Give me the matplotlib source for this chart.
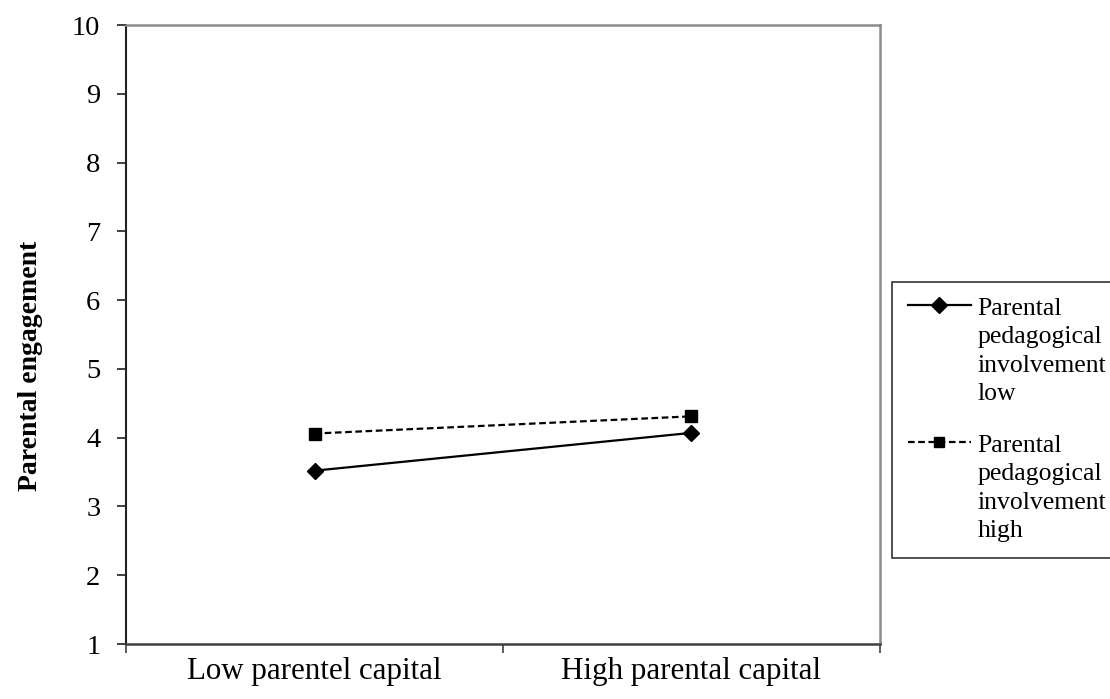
import matplotlib
matplotlib.use("Agg")
import matplotlib.pyplot as plt
import numpy as np
from matplotlib.legend_handler import HandlerLine2D

categories = ["Low parentel capital", "High parental capital"]
series_names = ["Parental\npedagogical\ninvolvement\nlow",
                "Parental\npedagogical\ninvolvement\nhigh"]
low_involvement = [3.52, 4.07]
high_involvement = [4.06, 4.31]
y_ticks = [1, 2, 3, 4, 5, 6, 7, 8, 9, 10]

plt.rcParams['font.family'] = ['Liberation Serif', 'DejaVu Serif']


class TopAlignedHandler(HandlerLine2D):
    def __init__(self, shift, **kw):
        super().__init__(**kw)
        self.shift = shift

    def create_artists(self, legend, orig_handle, xdescent, ydescent, width,
                       height, fontsize, trans):
        artists = super().create_artists(legend, orig_handle, xdescent, ydescent,
                                         width, height, fontsize, trans)
        for a in artists:
            a.set_ydata(np.asarray(a.get_ydata(), dtype=float) + self.shift)
        return artists


fig = plt.figure(figsize=(11.10, 6.99), dpi=100)
ax = fig.add_axes([126/1110, 1-644/699, (880-126)/1110, (644-25)/699])

xpos = [0.5, 1.5]
l1, = ax.plot(xpos, low_involvement, color='black', lw=1.6, marker='D', ms=8.5,
              label=series_names[0])
l2, = ax.plot(xpos, high_involvement, color='black', lw=1.6, ls=(0, (3, 1.6)), marker='s', ms=8.5,
              label=series_names[1])

ax.set_xlim(0, 2)
ax.set_ylim(1, 10)
ax.set_yticks(y_ticks)
ax.set_yticklabels([str(v) for v in y_ticks], fontsize=20.5)
ax.set_xticks([0, 1, 2])
ax.set_xticklabels([])
ax.set_xticks(xpos, minor=True)
ax.set_xticklabels(categories, minor=True, fontsize=22.3)
ax.tick_params(axis='x', which='minor', length=0, pad=9)
ax.tick_params(axis='x', which='major', length=6.5, width=1.2, direction='out', color='#404040')
ax.tick_params(axis='y', which='major', length=6.5, width=1.2, direction='out', pad=12, color='#202020')

ax.spines['left'].set_color('#202020')
ax.spines['left'].set_linewidth(1.5)
ax.spines['bottom'].set_color('#404040')
ax.spines['bottom'].set_linewidth(1.8)
ax.spines['top'].set_color('#8c8c8c')
ax.spines['top'].set_linewidth(1.8)
ax.spines['right'].set_color('#8c8c8c')
ax.spines['right'].set_linewidth(1.8)

ax.set_ylabel("Parental engagement", fontsize=20, fontweight='bold')
ax.yaxis.set_label_coords(-0.11, 0.45)

leg = fig.legend(handles=[l1, l2], loc='upper left', bbox_to_anchor=(892/1110, 1-282/699),
                 fontsize=18.5, frameon=True, fancybox=False, handlelength=2.45,
                 handletextpad=0.25, labelspacing=1.15, borderpad=0.62,
                 borderaxespad=0, markerscale=0.9,
                 handler_map={l1: TopAlignedHandler(33), l2: TopAlignedHandler(33)})
leg.get_frame().set_edgecolor('black')
leg.get_frame().set_linewidth(1.2)
for t in leg.get_texts():
    t.set_linespacing(1.38)

fig.savefig("out.png", dpi=100)
